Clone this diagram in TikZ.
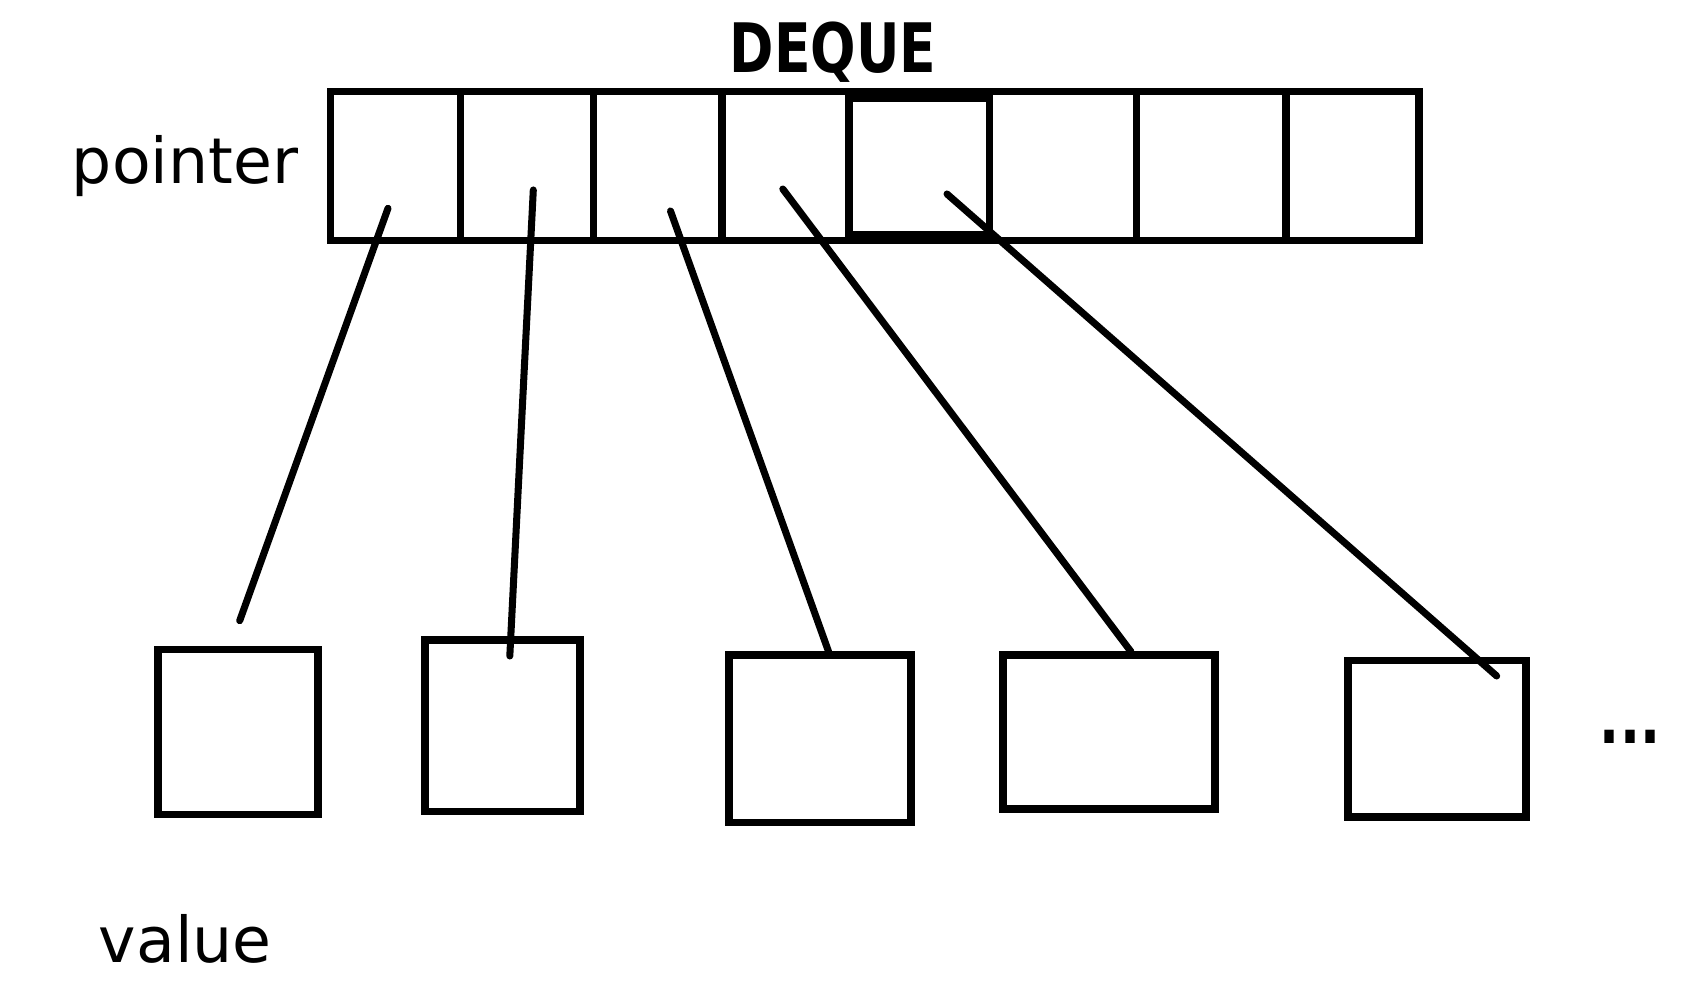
\documentclass[tikz,border=0pt]{standalone}
\usepackage{graphicx}
\usepackage{fontspec}
\setmainfont{DejaVu Sans}
\begin{document}
\begin{tikzpicture}[line width=2.1pt,
  cell/.style={draw, inner sep=0pt, outer sep=0pt},
  link/.style={line width=2pt, line cap=round},
  lbl/.style={font=\fontsize{18}{20}\selectfont}]
  \useasboundingbox (0,0) rectangle (17,9.87);
  % pointer row
  \draw (3.308,7.463) rectangle (14.188,8.955);
  \foreach \n/\l/\r in {1/3.308/4.607,2/4.607/5.935,3/5.935/7.219,4/7.219/8.488,6/9.896/11.364,7/11.364/12.86,8/12.86/14.188}
    {\node[cell, minimum width={(\r-\l)*1cm}, minimum height=1.492cm] (p\n) at ({(\l+\r)/2},8.209) {};}
  \node[cell, minimum width=1.408cm, minimum height=1.363cm] (p5) at (9.192,8.2015) {};
  % value boxes
  \foreach \n/\x/\y/\w/\h in {1/2.38/2.55/1.60/1.65,2/5.025/2.6125/1.55/1.715,3/8.20/2.4815/1.82/1.677,4/11.09/2.55/2.12/1.54,5/14.37/2.4835/1.78/1.567}
    {\node[cell, minimum width=\w cm, minimum height=\h cm] (v\n) at (\x,\y) {};}
  % links
  \foreach \n/\a/\b/\c/\d in {1/3.88/7.787/2.397/3.663,2/5.333/7.97/5.098/3.31,3/6.705/7.76/8.286/3.353,4/7.828/7.98/11.31/3.353,5/9.47/7.93/14.967/3.11}
    {\coordinate (s\n) at (\a,\b); \coordinate (e\n) at (\c,\d); \draw[link] (s\n) -- (e\n);}
  \node[lbl] (ptr) at (1.85,8.21) {pointer};
  \node[lbl] (val) at (1.853,0.48) {value};
  \node[anchor=base, font=\fontsize{19.4}{22}\selectfont\bfseries] (title) at (8.33,9.14) {\scalebox{0.785}[1]{DEQUE}};
  \node[anchor=base, font=\fontsize{20}{22}\selectfont\bfseries] (more) at (16.3,2.43) {\scalebox{0.75}[1]{...}};
\end{tikzpicture}
\end{document}
